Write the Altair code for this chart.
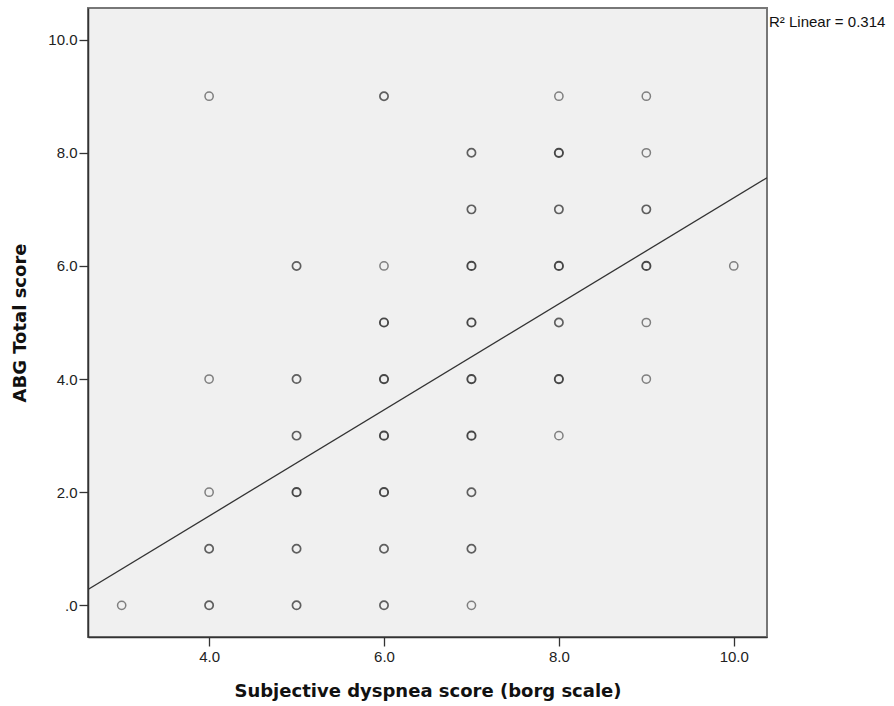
import altair as alt
import pandas as pd

# Scatter data (borg score, ABG total score, overlap level read from darkness)
borg = [3,
        4, 4, 4, 4, 4,
        5, 5, 5, 5, 5, 5,
        6, 6, 6, 6, 6, 6, 6, 6,
        7, 7, 7, 7, 7, 7, 7, 7, 7,
        8, 8, 8, 8, 8, 8, 8,
        9, 9, 9, 9, 9, 9,
        10]
abg = [0,
       9, 4, 2, 1, 0,
       6, 4, 3, 2, 1, 0,
       9, 6, 5, 4, 3, 2, 1, 0,
       8, 7, 6, 5, 4, 3, 2, 1, 0,
       9, 8, 7, 6, 5, 4, 3,
       9, 8, 7, 6, 5, 4,
       6]
overlap = [1,
           1, 1, 1, 2, 2,
           2, 2, 2, 3, 2, 2,
           2, 1, 3, 3, 3, 3, 2, 2,
           2, 2, 3, 3, 3, 3, 2, 2, 1,
           1, 3, 2, 3, 2, 3, 1,
           1, 1, 2, 3, 1, 1,
           1]

# Fitted line endpoints (at the plot edges)
fit_x = [2.615, 10.38]
fit_y = [0.28, 7.56]

x_ticks = [4, 6, 8, 10]
y_ticks = [0, 2, 4, 6, 8, 10]
x_domain = [2.615, 10.38]
y_domain = [-0.56, 10.56]

pts = pd.DataFrame({"borg": borg, "abg": abg, "n": overlap})
fit = pd.DataFrame({"borg": fit_x, "abg": fit_y})

xs = alt.Scale(domain=x_domain, nice=False, zero=False)
ys = alt.Scale(domain=y_domain, nice=False, zero=False)

x_axis = alt.Axis(values=x_ticks, labelExpr="datum.value == 0 ? '.0' : format(datum.value, '.1f')",
                  title="Subjective dyspnea score (borg scale)", grid=False,
                  tickSize=9, tickWidth=1.3, tickColor="#333", domainColor="#333", domainWidth=1.5,
                  labelFont="Liberation Sans", labelFontSize=15, labelColor="#222", labelPadding=3,
                  titleFont="DejaVu Sans", titleFontSize=18, titleFontWeight="bold", titleColor="#111",
                  titleY=54, titleBaseline="middle")
y_axis = alt.Axis(values=y_ticks, labelExpr="datum.value == 0 ? '.0' : format(datum.value, '.1f')",
                  title="ABG Total score", grid=False,
                  tickSize=9, tickWidth=1.3, tickColor="#333", domainColor="#333", domainWidth=1.5,
                  labelFont="Liberation Sans", labelFontSize=15, labelColor="#222", labelPadding=2,
                  titleFont="DejaVu Sans", titleFontSize=18, titleFontWeight="bold", titleColor="#111",
                  titleX=-68, titleY=314.5, titleBaseline="middle", titleAngle=-90)

points = alt.Chart(pts).mark_point(shape="circle", filled=False, size=68).encode(
    x=alt.X("borg:Q", scale=xs, axis=x_axis),
    y=alt.Y("abg:Q", scale=ys, axis=y_axis),
    stroke=alt.Stroke("n:O", scale=alt.Scale(domain=[1, 2, 3], range=["#505050", "#222222", "#000000"]), legend=None),
    strokeWidth=alt.StrokeWidth("n:O", scale=alt.Scale(domain=[1, 2, 3], range=[1.5, 1.9, 2.4]), legend=None),
)

line = alt.Chart(fit).mark_line(color="#333", strokeWidth=1.3, clip=True).encode(
    x=alt.X("borg:Q", scale=xs),
    y=alt.Y("abg:Q", scale=ys),
)

label = alt.Chart(pd.DataFrame({"t": ["R² Linear = 0.314"]})).mark_text(
    align="left", baseline="alphabetic", font="Liberation Sans", fontSize=15, color="#111"
).encode(x=alt.value(681), y=alt.value(19), text="t:N")

chart = alt.layer(line, points, label).properties(
    width=679, height=629,
    autosize=alt.AutoSizeParams(type="none"),
    padding={"left": 88, "top": 8, "right": 127, "bottom": 69},
    background="white",
).configure_view(fill="#F0F0F0", stroke="#777", strokeWidth=2)

chart.save("out.html", embed_options={"renderer": "svg", "actions": False})
